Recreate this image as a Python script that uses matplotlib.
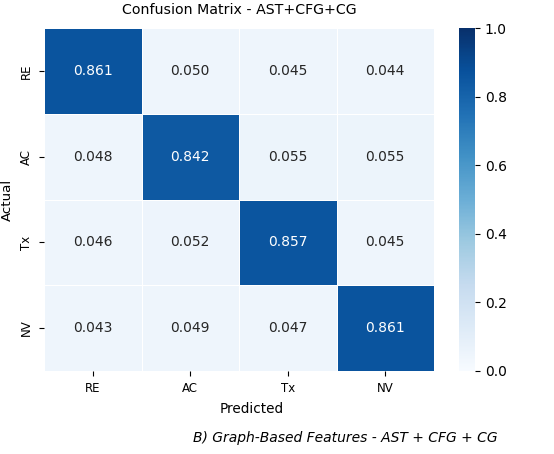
import numpy as np
import matplotlib
matplotlib.use("Agg")
import matplotlib.pyplot as plt
import seaborn as sns

labels = ["RE", "AC", "Tx", "NV"]
row_re = [0.861, 0.050, 0.045, 0.044]
row_ac = [0.048, 0.842, 0.055, 0.055]
row_tx = [0.046, 0.052, 0.857, 0.045]
row_nv = [0.043, 0.049, 0.047, 0.861]

cm = np.array([row_re, row_ac, row_tx, row_nv])

fig = plt.figure(figsize=(5.54, 4.54), dpi=100)
ax = fig.add_axes([44 / 554, 1 - 371 / 454, 390 / 554, 343 / 454])
cax = fig.add_axes([459 / 554, 1 - 371 / 454, 16 / 554, 343 / 454])

sns.heatmap(cm, annot=True, fmt=".3f", cmap="Blues", vmin=0, vmax=1,
            xticklabels=labels, yticklabels=labels, linewidths=0.5,
            linecolor="white", ax=ax, cbar_ax=cax, annot_kws={"size": 10})
ax.set_title("Confusion Matrix - AST+CFG+CG", fontsize=10.2, pad=10)
ax.set_xlabel("Predicted", fontsize=9.8)
ax.xaxis.set_label_coords(0.533, -0.09)
ax.set_ylabel("Actual", fontsize=9.6)
ax.tick_params(labelsize=8.5, pad=4.5)
cax.tick_params(labelsize=10)
for sp in cax.spines.values():
    sp.set_visible(False)

fig.text(345 / 554, 1 - 438 / 454, "B) Graph-Based Features - AST + CFG + CG",
         ha="center", va="center", fontsize=10, style="italic")

fig.savefig("out.png", dpi=100)
